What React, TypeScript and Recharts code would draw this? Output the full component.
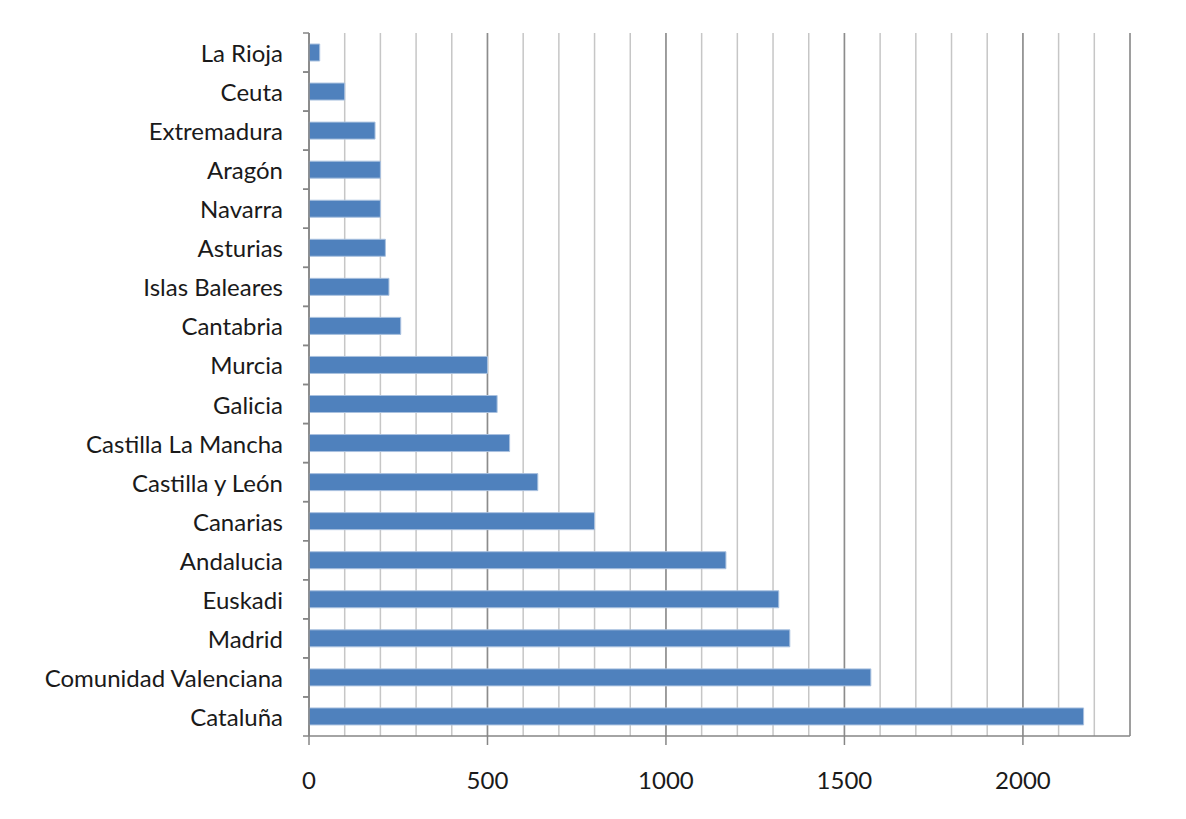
import React from 'react';
import { BarChart, Bar, XAxis, YAxis, CartesianGrid } from 'recharts';

// Regions, top to bottom as they appear in the chart
const regions = [
  'La Rioja',
  'Ceuta',
  'Extremadura',
  'Aragón',
  'Navarra',
  'Asturias',
  'Islas Baleares',
  'Cantabria',
  'Murcia',
  'Galicia',
  'Castilla La Mancha',
  'Castilla y León',
  'Canarias',
  'Andalucia',
  'Euskadi',
  'Madrid',
  'Comunidad Valenciana',
  'Cataluña',
];

const counts = [30, 100, 185, 200, 200, 214, 224, 257, 500, 527, 562, 641, 800, 1168, 1316, 1347, 1574, 2170];

const xTicks = [0, 500, 1000, 1500, 2000];
const xMax = 2300;
const gridStep = 100;

const data = regions.map((name, i) => ({ name, value: counts[i] }));
// minor gridlines every 100
const minorTicks = Array.from({ length: xMax / gridStep + 1 }, (_, i) => i * gridStep);

const FONT = 'Lato, "Open Sans", sans-serif';
const TEXT = '#1a1a1a';
const AXIS = '#868686';

function CategoryTick(props: any) {
  const { x, y, payload, index } = props;
  const half = payload?.offset ?? 0;
  return (
    <g>
      {index === 0 && (
        // outer frame of the chart picture
        <rect x={6} y={5} width={1179} height={840} fill="none" stroke="#8e8e8e" strokeWidth={2} />
      )}
      <line x1={x + 20} x2={x + 26} y1={y - half} y2={y - half} stroke={AXIS} strokeWidth={1.5} />
      <line x1={x + 20} x2={x + 26} y1={y + half} y2={y + half} stroke={AXIS} strokeWidth={1.5} />
      <text x={x} y={y} textAnchor="end" dominantBaseline="central" fill={TEXT} fontSize={24} fontFamily={FONT}>
        {payload.value}
      </text>
    </g>
  );
}

const minorLines = (p: any) => {
  const scale = p?.xAxis?.scale;
  if (typeof scale === 'function') return minorTicks.map((v) => scale(v));
  return minorTicks.map((v) => p.offset.left + (v / xMax) * p.offset.width);
};

export default function App() {
  return (
    <div style={{ width: 1186, height: 819, margin: -8, background: '#fff', overflow: 'hidden' }}>
      <BarChart
        width={1186}
        height={819}
        data={data}
        layout="vertical"
        margin={{ top: 33, right: 56, bottom: 23, left: 9 }}
      >
        <CartesianGrid
          horizontal={false}
          verticalCoordinatesGenerator={minorLines}
          stroke="#c6c6c6"
          strokeWidth={1.5}
        />
        <CartesianGrid horizontal={false} stroke="#8c8c8c" strokeWidth={1.5} />
        <XAxis
          type="number"
          domain={[0, xMax]}
          ticks={xTicks}
          interval={0}
          height={60}
          axisLine={{ stroke: AXIS, strokeWidth: 1.5 }}
          tickLine={{ stroke: AXIS, strokeWidth: 1.5 }}
          tickSize={9}
          tickMargin={27}
          tick={{ fill: TEXT, fontSize: 24, fontFamily: FONT }}
        />
        <YAxis
          type="category"
          dataKey="name"
          width={300}
          interval={0}
          axisLine={{ stroke: AXIS, strokeWidth: 1.5 }}
          tickLine={false}
          tickSize={0}
          tickMargin={26}
          tick={<CategoryTick />}
        />
        <Bar
          dataKey="value"
          fill="#4f81bd"
          stroke="#a9c1df"
          strokeWidth={1}
          barSize={17}
          isAnimationActive={false}
        />
      </BarChart>
    </div>
  );
}
